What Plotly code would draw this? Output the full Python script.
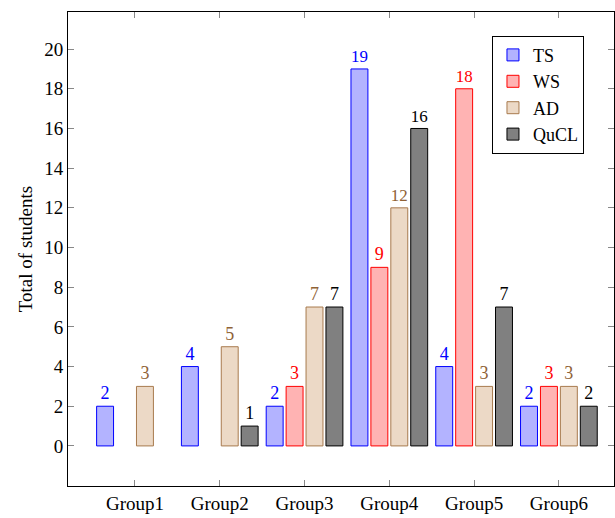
import plotly.graph_objects as go

groups = ["Group1", "Group2", "Group3", "Group4", "Group5", "Group6"]
ts = [2, 4, 2, 19, 4, 2]
ws = [0, 0, 3, 9, 18, 3]
ad = [3, 5, 7, 12, 3, 3]
qucl = [0, 1, 7, 16, 7, 2]
yticks = [0, 2, 4, 6, 8, 10, 12, 14, 16, 18, 20]

series = [
    ("TS", ts, "#b3b3ff", "#0000ff", "#0000ff"),
    ("WS", ws, "#ffb3b3", "#ff0000", "#ff0000"),
    ("AD", ad, "#ecd9c6", "#a87a4e", "#8f6236"),
    ("QuCL", qucl, "#808080", "#000000", "#000000"),
]

FONT = "Liberation Serif"

fig = go.Figure()
for name, vals, fill, edge, tcol in series:
    y = [v if v != 0 else None for v in vals]
    txt = [str(v) if v != 0 else "" for v in vals]
    fig.add_trace(go.Bar(
        name=name, x=groups, y=y, text=txt,
        textposition="outside", cliponaxis=False,
        textfont=dict(color=tcol, size=18, family=FONT),
        marker=dict(color=fill, line=dict(color=edge, width=1)),
    ))

fig.update_layout(
    width=615, height=518,
    margin=dict(l=68, r=1, t=12, b=32, autoexpand=False),
    paper_bgcolor="white", plot_bgcolor="white",
    barmode="group", bargap=0.06, bargroupgap=0.15,
    font=dict(family=FONT, size=19, color="black"),
    showlegend=True,
    legend=dict(
        x=0.945, y=0.95, xanchor="right", yanchor="top",
        bordercolor="black", borderwidth=1, bgcolor="white",
        font=dict(size=18, family=FONT),
        itemwidth=30, tracegroupgap=0,
    ),
)
fig.update_xaxes(
    range=[-0.79, 5.65], showline=True, linecolor="black", linewidth=1,
    mirror="ticks", ticks="inside", ticklen=6, tickcolor="#888888",
    showgrid=False, tickfont=dict(size=19, family=FONT), automargin=False,
)
fig.update_yaxes(
    range=[-2.02, 21.87], tickvals=yticks, showline=True, linecolor="black",
    linewidth=1, mirror="ticks", ticks="inside", ticklen=6, tickcolor="#888888",
    showgrid=False, zeroline=False, tickfont=dict(size=19, family=FONT),
    automargin=False,
    title=dict(text="Total of students", font=dict(size=19, family=FONT), standoff=6),
)

fig.write_html(
    "out.html",
    config={"displayModeBar": False},
    post_script="document.body.style.margin='0';document.body.style.overflow='hidden';",
)
